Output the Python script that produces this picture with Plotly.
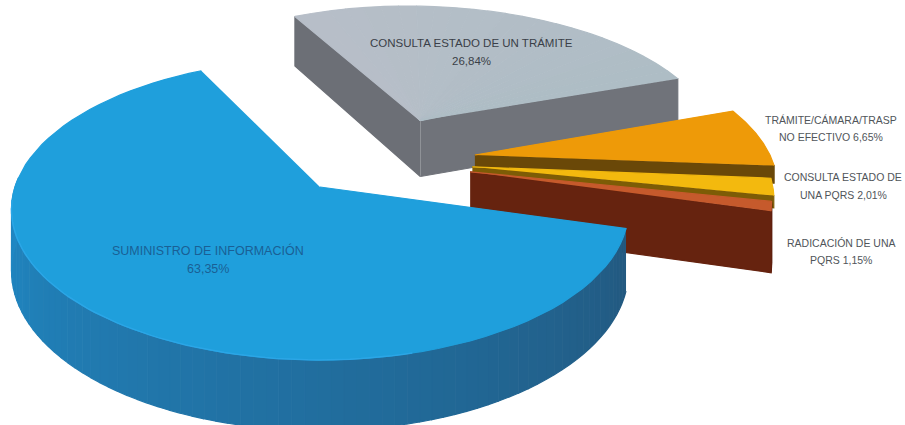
import numpy as np
import plotly.graph_objects as go

# Shares of the pie, clockwise from the start of the grey slice
slice_names = ["CONSULTA ESTADO DE UN TRÁMITE", "TRÁMITE/CÁMARA/TRASP NO EFECTIVO",
               "CONSULTA ESTADO DE UNA PQRS", "RADICACIÓN DE UNA PQRS",
               "SUMINISTRO DE INFORMACIÓN"]
slice_values = [26.84, 6.65, 2.01, 1.15, 63.35]
value_labels = ["26,84%", "6,65%", "2,01%", "1,15%", "63,35%"]

# Styling and pull-out of every slice, same order as above
top_colors = ["#b7bec8", "#ee9a08", "#f3b90e", "#c65a2c", "#1f9fdc"]
top_colors_end = ["#aebdc5", "#ee9a08", "#f3b90e", "#c65a2c", "#1f9fdc"]
cut_colors = ["#70737a", "#6a4808", "#7d5c06", "#66230f", "#1c6e9f"]
wall_light = ["#8b8f96", "#8a5c08", "#9a7408", "#6a2510", "#2088c4"]
wall_dark = ["#5f6268", "#5c3f06", "#6a5005", "#561c0c", "#22587f"]
pull_x = [0.353, 0.525, 0.51, 0.50, 0.0]
pull_y = [0.485, 0.225, 0.14, 0.105, 0.0]
radius = [1.025, 1.0, 0.985, 0.98, 1.0]
has_wall = [False, False, False, True, True]
# Portion of each cut face left uncovered by the slice in front of it
cut_depth = [1.0, 0.3, 0.2, 1.0, 1.0]

START_ANGLE = 116.2
CX, CY, A, B, HEIGHT, PERSP = 320.0, 187.0, 305.0, 147.0, 60.0, 0.15


def project(x, y, drop=0.0):
    s = 1.0 / (1.0 + PERSP * np.asarray(y, float))
    return CX + A * np.asarray(x, float) * s, CY - B * np.asarray(y, float) * s + drop * HEIGHT * s


def mix(c1, c2, t):
    a = [int(c1[i:i + 2], 16) for i in (1, 3, 5)]
    b = [int(c2[i:i + 2], 16) for i in (1, 3, 5)]
    return "#%02x%02x%02x" % tuple(round(u + (v - u) * t) for u, v in zip(a, b))


fig = go.Figure()


def poly(xs, ys, color):
    fig.add_trace(go.Scatter(x=list(xs), y=list(ys), mode="lines", fill="toself",
                             fillcolor=color, line=dict(color=color, width=1.2),
                             hoverinfo="skip", showlegend=False))


def cut_face(px, py, ex, ey, color, depth=1.0):
    tx, ty = project([px, ex], [py, ey])
    bx, by = project([px, ex], [py, ey], depth)
    poly(np.r_[tx, bx[::-1]], np.r_[ty, by[::-1]], color)


edges = START_ANGLE - np.cumsum([0] + [v / sum(slice_values) * 360 for v in slice_values])

for i in range(len(slice_values)):
    a0, a1 = edges[i], edges[i + 1]
    px, py, r = pull_x[i], pull_y[i], radius[i]
    phi = np.radians(np.linspace(a0, a1, 80))
    ax, ay = px + r * np.cos(phi), py + r * np.sin(phi)

    # Outer wall: only the part facing the viewer, shaded strip by strip
    if has_wall[i]:
        n = 110 if i == 4 else 6
        phi_w = np.radians(np.linspace(a0, a1, n + 1))
        for j in range(n):
            p0, p1 = phi_w[j], phi_w[j + 1]
            mid = (p0 + p1) / 2
            if np.sin(mid) > 0.05:
                continue
            pp = np.linspace(p0, p1, 4)
            wx, wy = px + r * np.cos(pp), py + r * np.sin(pp)
            tx, ty = project(wx, wy)
            bx, by = project(wx, wy, 1.0)
            shade = np.clip(1 - (np.degrees(-mid) - 15) / 165, 0, 1)
            poly(np.r_[tx, bx[::-1]], np.r_[ty, by[::-1]], mix(wall_light[i], wall_dark[i], shade))

    # Cut faces that turn towards the viewer
    if i == 0:
        cut_face(px, py, ax[0], ay[0], "#6c6f76")
    if i != 4:
        cut_face(px, py, ax[-1], ay[-1], cut_colors[i], cut_depth[i])

    # Top face, drawn as thin sectors where its colour drifts across the slice
    if i == 0:
        phi_t = np.linspace(a0, a1, 25)
        for j in range(24):
            pp = np.radians(np.linspace(phi_t[j], phi_t[j + 1], 6))
            sx, sy = project(np.r_[px, px + r * np.cos(pp)], np.r_[py, py + r * np.sin(pp)])
            poly(sx, sy, mix(top_colors[i], top_colors_end[i], j / 23))
    else:
        sx, sy = project(np.r_[px, ax], np.r_[py, ay])
        poly(sx, sy, top_colors[i])

# Light rim along the front-left edge of the large slice
rim = np.radians(np.linspace(185, 285, 60))
rx, ry = project(pull_x[4] + radius[4] * np.cos(rim), pull_y[4] + radius[4] * np.sin(rim))
fig.add_trace(go.Scatter(x=rx, y=ry, mode="lines", line=dict(color="#2ba6e6", width=1.5),
                         hoverinfo="skip", showlegend=False))

# Data labels, one annotation per line for tight control of the leading
label_lines = [
    (471, 43, "CONSULTA ESTADO DE UN TRÁMITE", 11.5, "#3a3f48"),
    (471, 61, value_labels[0], 11.5, "#3a3f48"),
    (831, 120, "TRÁMITE/CÁMARA/TRASP", 10.5, "#50555a"),
    (831, 137, f"NO EFECTIVO {value_labels[1]}", 10.5, "#50555a"),
    (843, 177, "CONSULTA ESTADO DE", 10.5, "#50555a"),
    (843, 195, f"UNA PQRS {value_labels[2]}", 10.5, "#50555a"),
    (841, 243, "RADICACIÓN DE UNA", 10.5, "#50555a"),
    (841, 260, f"PQRS {value_labels[3]}", 10.5, "#50555a"),
    (208, 250, "SUMINISTRO DE INFORMACIÓN", 12.5, "#1a5f95"),
    (208, 269, value_labels[4], 12.5, "#1a5f95"),
]
for x, y, text, size, color in label_lines:
    fig.add_annotation(x=x, y=y, xref="x", yref="y", text=text, showarrow=False,
                       font=dict(family="Liberation Sans", size=size, color=color))

# Heading line running off the top edge of the page
fig.add_annotation(x=0, y=-3, xref="x", yref="y", xanchor="left", text="Requerimientos:",
                   showarrow=False, font=dict(family="Liberation Sans", size=11, color="#555555"))

fig.update_layout(
    width=905, height=425, margin=dict(l=0, r=0, t=0, b=0),
    paper_bgcolor="white", plot_bgcolor="white",
    xaxis=dict(range=[0, 905], visible=False, fixedrange=True),
    yaxis=dict(range=[425, 0], visible=False, fixedrange=True),
)
fig.write_html("out.html")
